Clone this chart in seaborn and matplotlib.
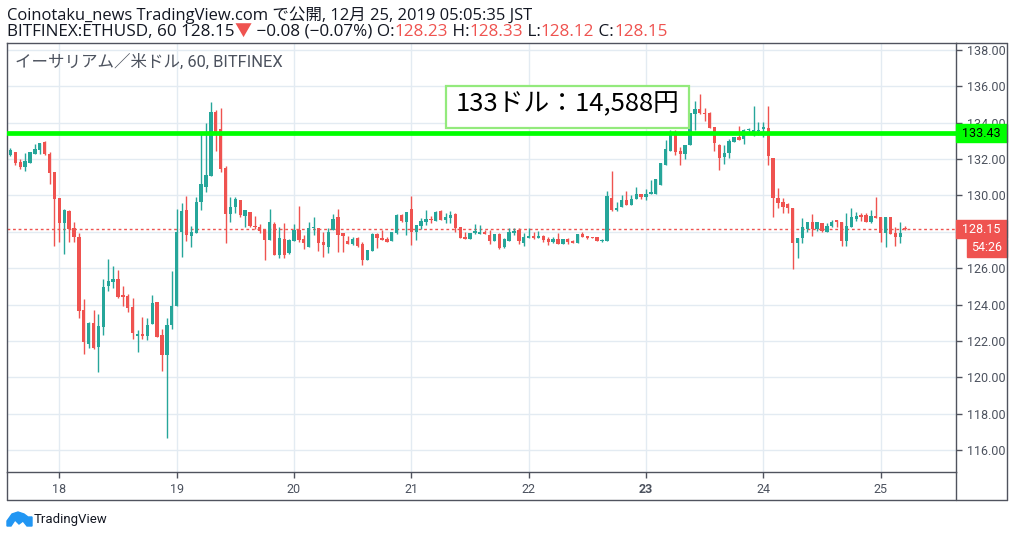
import numpy as np
import matplotlib.pyplot as plt
import seaborn as sns
from matplotlib.patches import Rectangle, Polygon
from matplotlib.lines import Line2D
from matplotlib.transforms import blended_transform_factory

# hourly candles, hour 0 = 18 Dec 00:00 (JST)
hours = list(range(-10, 174))
open_ = [132.23, 132.39, 131.84, 131.58, 131.80, 132.30, 132.52, 132.92, 132.28, 131.29,
         129.86, 128.50, 129.16, 128.21, 127.73, 123.70, 121.83, 122.97, 121.68, 122.78,
         125.02, 125.26, 125.41, 124.53, 124.47, 123.87, 122.29, 122.38, 122.29, 122.95,
         124.14, 122.33, 121.23, 122.89, 123.94, 128.00, 129.20, 127.79, 127.95, 129.64,
         130.48, 131.09, 134.59, 133.66, 131.53, 129.00, 129.35, 129.75, 128.87, 129.09,
         128.32, 128.25, 128.14, 127.55, 128.43, 126.73, 127.59, 126.82, 127.50, 128.10,
         127.59, 127.18, 128.23, 128.19, 127.46, 127.18, 128.10, 128.83, 127.95, 127.50,
         127.33, 127.64, 127.33, 126.45, 126.96, 127.88, 127.68, 127.59, 127.50, 127.92,
         128.93, 128.56, 129.26, 128.01, 128.34, 128.56, 128.70, 128.60, 129.14, 128.65,
         128.78, 128.96, 128.25, 127.73, 127.61, 127.92, 127.88, 128.01, 127.83, 127.50,
         127.88, 127.18, 127.52, 127.95, 128.10, 127.40, 127.64, 127.77, 127.68, 127.77,
         127.59, 127.42, 127.59, 127.33, 127.59, 127.50, 127.40, 127.88, 127.77, 127.70,
         127.70, 127.52, 127.52, 129.88, 129.20, 129.38, 129.75, 129.49, 129.79, 130.08,
         129.93, 130.08, 130.08, 130.57, 131.68, 132.45, 133.32, 132.45, 132.28, 132.78,
         134.46, 134.74, 134.55, 134.52, 133.75, 132.78, 132.13, 132.32, 132.96, 133.20,
         133.09, 133.60, 133.51, 133.56, 133.64, 133.69, 132.04, 129.84, 129.62, 129.51,
         129.29, 127.37, 127.68, 128.14, 128.56, 128.14, 128.50, 128.01, 128.34, 128.65,
         128.56, 127.51, 128.28, 128.69, 128.93, 128.93, 128.56, 128.87, 128.80, 127.92,
         128.83, 127.92, 127.70, 128.23]
high = [132.59, 132.39, 131.99, 132.35, 132.39, 132.83, 132.90, 132.99, 132.39, 131.29,
        129.86, 129.24, 129.20, 128.54, 127.92, 124.29, 123.06, 123.70, 123.48, 125.41,
        126.51, 126.12, 125.90, 125.02, 124.58, 124.36, 122.60, 123.30, 123.26, 124.53,
        124.14, 122.66, 123.26, 125.85, 129.26, 129.59, 129.97, 128.32, 129.93, 133.42,
        134.00, 135.14, 134.70, 134.81, 131.62, 129.92, 129.92, 129.75, 129.20, 129.09,
        128.87, 128.43, 128.14, 129.26, 128.56, 128.28, 128.50, 127.59, 128.43, 129.42,
        127.83, 128.56, 128.80, 128.19, 128.01, 128.19, 128.96, 129.26, 127.95, 127.77,
        127.70, 127.73, 127.44, 127.00, 127.95, 127.95, 128.10, 127.70, 128.01, 128.98,
        128.96, 129.11, 129.97, 128.38, 128.74, 129.20, 128.89, 129.16, 129.20, 129.02,
        129.14, 129.02, 128.25, 127.97, 127.92, 128.43, 128.38, 128.10, 128.10, 127.88,
        127.92, 127.64, 128.23, 128.19, 128.19, 127.95, 128.19, 128.01, 128.04, 127.82,
        127.70, 127.73, 127.92, 127.59, 127.64, 127.55, 127.88, 127.97, 127.77, 127.72,
        127.73, 127.62, 130.25, 131.36, 129.66, 130.02, 130.26, 130.02, 130.48, 130.08,
        130.34, 130.85, 130.89, 131.77, 133.05, 133.60, 133.60, 132.68, 132.78, 134.52,
        135.20, 135.58, 134.79, 134.61, 133.75, 132.82, 132.78, 133.09, 133.23, 133.82,
        133.64, 133.69, 134.92, 134.06, 134.06, 134.92, 132.04, 130.43, 129.88, 129.60,
        129.29, 127.68, 128.74, 128.56, 128.96, 128.56, 128.50, 128.47, 128.65, 128.65,
        128.56, 129.02, 129.29, 129.11, 129.02, 129.05, 129.20, 129.93, 128.80, 128.83,
        128.83, 128.28, 128.56, 128.33]
low = [132.17, 131.69, 131.46, 131.36, 131.80, 132.30, 132.28, 132.24, 130.63, 127.22,
       127.44, 126.78, 127.44, 127.44, 123.26, 121.28, 121.63, 121.54, 120.31, 122.33,
       124.76, 124.91, 124.38, 123.92, 123.59, 122.12, 121.41, 122.12, 122.07, 122.95,
       122.23, 120.36, 116.68, 122.67, 123.94, 126.63, 127.51, 127.18, 127.95, 129.22,
       130.21, 131.09, 132.46, 131.31, 127.40, 128.56, 129.05, 128.83, 128.28, 128.28,
       128.14, 127.95, 126.45, 127.55, 126.73, 126.58, 126.58, 126.78, 127.50, 127.46,
       127.06, 127.18, 127.83, 126.96, 126.63, 126.82, 128.10, 126.91, 126.91, 127.33,
       127.28, 127.18, 126.18, 126.45, 126.96, 127.09, 127.55, 127.42, 127.50, 127.88,
       128.52, 127.83, 127.28, 127.55, 128.14, 128.38, 128.50, 128.60, 128.65, 128.47,
       128.50, 128.01, 127.68, 127.61, 127.61, 127.88, 127.88, 127.88, 127.33, 127.50,
       127.06, 127.13, 127.52, 127.83, 127.33, 127.24, 127.64, 127.61, 127.64, 127.46,
       127.28, 127.37, 127.31, 127.33, 127.33, 127.40, 127.40, 127.70, 127.59, 127.66,
       127.50, 127.44, 127.52, 129.15, 129.15, 129.38, 129.49, 129.49, 129.79, 129.79,
       129.75, 130.08, 130.08, 130.57, 131.68, 132.45, 132.23, 131.68, 132.00, 132.78,
       133.60, 134.48, 134.10, 133.69, 132.45, 131.40, 131.71, 132.08, 132.96, 133.05,
       132.83, 133.55, 133.27, 133.33, 133.20, 131.68, 128.80, 129.33, 129.02, 129.02,
       125.94, 126.54, 127.37, 128.01, 127.77, 128.06, 128.01, 127.97, 128.29, 128.28,
       127.24, 127.24, 128.28, 128.60, 128.60, 128.56, 128.50, 128.74, 127.46, 127.15,
       127.88, 127.24, 127.40, 128.12]
close = [132.50, 131.80, 131.58, 131.90, 132.39, 132.54, 132.89, 132.28, 131.25, 129.82,
         128.50, 129.20, 128.14, 127.73, 123.66, 121.96, 123.00, 121.59, 122.82, 124.97,
         125.30, 125.41, 124.42, 124.42, 123.83, 122.45, 122.38, 122.29, 122.88, 124.07,
         122.23, 121.23, 122.88, 123.92, 127.99, 129.15, 127.84, 127.99, 129.64, 130.63,
         131.13, 134.59, 133.51, 131.46, 129.00, 129.37, 129.81, 128.93, 129.20, 128.32,
         128.25, 128.06, 127.55, 128.54, 126.73, 127.64, 126.73, 127.55, 128.10, 127.55,
         127.37, 128.19, 128.28, 127.40, 127.28, 127.97, 128.70, 127.83, 127.77, 127.33,
         127.59, 127.24, 126.45, 127.00, 127.88, 127.68, 127.55, 127.46, 127.97, 128.93,
         128.60, 129.07, 128.01, 128.38, 128.60, 128.70, 128.65, 129.09, 128.65, 128.80,
         128.93, 128.23, 127.68, 127.61, 127.92, 128.05, 127.97, 127.88, 127.50, 127.88,
         127.09, 127.59, 128.01, 128.06, 127.50, 127.73, 127.77, 127.64, 127.77, 127.55,
         127.46, 127.59, 127.33, 127.59, 127.42, 127.40, 127.88, 127.73, 127.68, 127.68,
         127.52, 127.55, 129.97, 129.20, 129.33, 129.75, 129.49, 129.82, 130.08, 129.93,
         130.08, 130.21, 130.89, 131.77, 132.54, 133.32, 132.41, 132.28, 132.78, 134.52,
         134.75, 134.52, 134.46, 133.73, 132.87, 132.08, 132.35, 132.99, 133.20, 133.05,
         133.60, 133.62, 133.60, 133.60, 133.78, 132.17, 129.84, 129.60, 129.35, 129.33,
         127.37, 127.68, 128.28, 128.56, 128.14, 128.56, 128.06, 128.34, 128.56, 128.56,
         127.51, 128.34, 128.80, 128.87, 128.83, 128.56, 128.87, 128.74, 127.92, 128.83,
         127.88, 127.73, 127.95, 128.15]

day_ticks = [0, 24, 48, 72, 96, 120, 144, 168]
day_labels = ['18', '19', '20', '21', '22', '23', '24', '25']
price_ticks = [116, 118, 120, 122, 124, 126, 128, 130, 132, 134, 136, 138]
level_price = 133.43
last_price = 128.15
countdown = '54:26'
note_text = '133ドル：14,588円'
title_text = 'イーサリアム／米ドル, 60, BITFINEX'
header_1 = 'Coinotaku_news TradingView.com で公開, 12月 25, 2019 05:05:35 JST'

UP, DOWN = '#26a69a', '#ef5350'
EDGE = '#50535e'
GRID = '#e3ebf2'
TXT = '#4c525e'

sns.set_style('white')
plt.rcParams['font.family'] = ['Roboto', 'Noto Sans CJK JP', 'DejaVu Sans']
HEAD_FONT = ['Open Sans', 'Noto Sans CJK JP', 'DejaVu Sans']

W, H = 1014, 537
fig = plt.figure(figsize=(W / 100, H / 100), dpi=100)


def fx(x):
    return x / W


def fy(y):
    return 1 - y / H


ax = fig.add_axes([fx(7), fy(472), fx(956) - fx(7), fy(43) - fy(472)])

df_o = np.array(open_)
df_c = np.array(close)
cols = [UP if c >= o else DOWN for o, c in zip(open_, close)]
ax.vlines(hours, low, high, colors=cols, lw=1, zorder=3)
bottoms = np.minimum(df_o, df_c)
heights = np.maximum(np.abs(df_c - df_o), 0.05)
ax.bar(hours, heights, bottom=bottoms, width=0.68, color=cols, lw=0, zorder=4)

ax.axhline(last_price, color=DOWN, lw=1, ls=(0, (2, 2)), zorder=2)
ax.axhline(level_price, color='#00ff00', lw=3.4, zorder=5)

ax.set_xlim(-10.7, 183.4)
ax.set_ylim(114.79, 138.385)
ax.set_xticks(day_ticks)
ax.set_xticklabels(day_labels)
for lab in ax.get_xticklabels():
    if lab.get_text() == '23':
        lab.set_fontweight('bold')
ax.set_yticks(price_ticks)
# 128.00 sits behind the last-price tag on the price scale
ax.set_yticklabels(['' if p == 128 else f'{p:.2f}' for p in price_ticks])
ax.yaxis.tick_right()
ax.tick_params(axis='both', length=4, width=1, color=EDGE, labelcolor=TXT, labelsize=9, pad=4)
ax.tick_params(axis='x', bottom=True)
ax.tick_params(axis='y', right=True, left=False)
ax.grid(True, color=GRID, lw=1, zorder=0)
ax.set_axisbelow(True)
for s in ax.spines.values():
    s.set_color(EDGE)
    s.set_linewidth(1)

# outer frame of time and price scales
for xs, ys in [([7, 7], [472, 500]), ([7, 1007], [500, 500]), ([1007, 1007], [500, 43]),
               ([956, 1007], [43, 43]), ([956, 956], [472, 500])]:
    fig.add_artist(Line2D([fx(v) for v in xs], [fy(v) for v in ys], color=EDGE, lw=1))

# price scale tags
bt = blended_transform_factory(ax.transAxes, ax.transData)
bw = 51 / 949
ax.add_patch(Rectangle((1.0, level_price - 0.48), bw, 0.96, transform=bt,
                       color='#00ff00', clip_on=False, zorder=6))
ax.text(1.0 + bw / 2, level_price, f'{level_price:.2f}', transform=bt, ha='center',
        va='center', fontsize=9, color='black', clip_on=False, zorder=7)
ax.add_patch(Rectangle((1.0, last_price - 0.49), bw, 0.98, transform=bt,
                       color=DOWN, clip_on=False, zorder=6))
ax.text(1.0 + bw / 2, last_price, f'{last_price:.2f}', transform=bt, ha='center',
        va='center', fontsize=9, color='white', clip_on=False, zorder=7)
ax.add_patch(Rectangle((1.0 + 10.5 / 949, last_price - 1.52), bw - 10.5 / 949, 0.98,
                       transform=bt, color=DOWN, clip_on=False, zorder=6))
ax.text(1.0 + (bw + 10.5 / 949) / 2, last_price - 1.03, countdown, transform=bt,
        ha='center', va='center', fontsize=9, color='white', clip_on=False, zorder=7)

# chart title inside plot
fig.text(fx(15), fy(62), title_text, fontsize=11.9, color=TXT, va='center', ha='left')

# annotation box
fig.add_artist(Rectangle((fx(446), fy(128)), fx(689) - fx(446), fy(86) - fy(128),
                         facecolor='white', edgecolor='#93ea7c', lw=1.6, zorder=10))
fig.text(fx(568), fy(104), note_text, fontsize=18.5, color='black', ha='center',
         va='center', family=['Noto Sans CJK JP', 'DejaVu Sans'], zorder=11)

# header lines
fig.text(fx(7), fy(15), header_1, fontsize=11.9, color='#131722', va='center', ha='left',
         family=HEAD_FONT)
renderer = fig.canvas.get_renderer()
segments = [('BITFINEX:ETHUSD, 60 128.15', '#131722'), ('▼', DOWN),
            (' −0.08 (−0.07%) O:', '#131722'), ('128.23', DOWN), (' H:', '#131722'),
            ('128.33', DOWN), (' L:', '#131722'), ('128.12', DOWN), (' C:', '#131722'),
            ('128.15', DOWN)]
xpos = 7
for seg, c in segments:
    t = fig.text(fx(xpos), fy(32), seg, fontsize=12.3, color=c, va='center', ha='left',
                 family=HEAD_FONT)
    xpos += t.get_window_extent(renderer).width

# TradingView logo
cloud = [(7, 526), (7, 521), (12, 514), (18, 512), (24, 514), (28, 517), (32, 517),
         (32, 526), (27, 526), (23, 521), (19, 524), (15, 520), (11, 526)]
fig.add_artist(Polygon([(fx(a), fy(b)) for a, b in cloud], closed=True, color='#2196f3'))
fig.text(fx(34), fy(519), 'TradingView', fontsize=9.5, color='#131722', va='center', ha='left')

fig.savefig('out.png', dpi=100)
